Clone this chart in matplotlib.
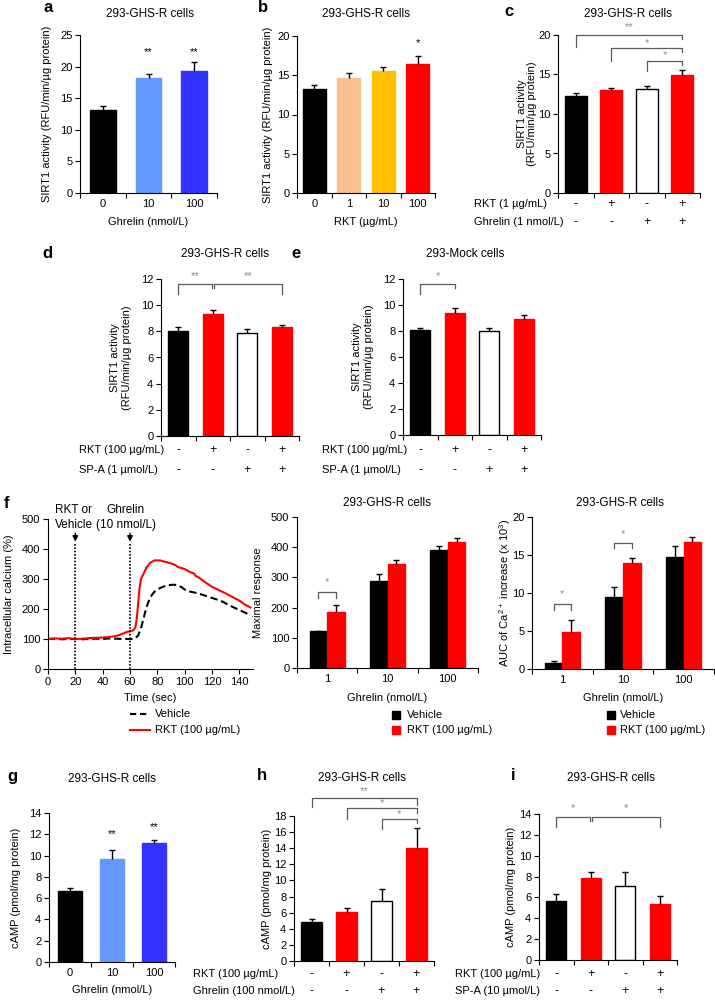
import numpy as np
import matplotlib
matplotlib.use('Agg')
import matplotlib.pyplot as plt
from matplotlib.transforms import blended_transform_factory
from matplotlib.lines import Line2D
from matplotlib.patches import Rectangle

# ---- data ----
# a: SIRT1 activity vs ghrelin
ghrelin_doses = ['0', '10', '100']
sirt_ghrelin = [13.1, 18.2, 19.3]
sirt_ghrelin_err = [0.6, 0.7, 1.5]

# b: SIRT1 activity vs RKT
rkt_doses = ['0', '1', '10', '100']
sirt_rkt = [13.2, 14.6, 15.5, 16.4]
sirt_rkt_err = [0.5, 0.7, 0.6, 1.1]

# c: RKT 1 ug/mL x ghrelin 1 nmol/L
sirt_combo = [12.3, 13.0, 13.2, 14.9]
sirt_combo_err = [0.4, 0.3, 0.3, 0.7]

# d, e: RKT 100 ug/mL x SP-A
sirt_spa_ghsr = [8.0, 9.35, 7.9, 8.3]
sirt_spa_ghsr_err = [0.3, 0.25, 0.25, 0.2]
sirt_spa_mock = [8.1, 9.4, 8.0, 8.9]
sirt_spa_mock_err = [0.15, 0.35, 0.2, 0.3]

# f: calcium time course
t_vehicle = [0, 5, 10, 15, 20, 25, 30, 35, 40, 45, 50, 55, 60, 62, 64, 66, 68, 70, 72, 74,
             76, 78, 80, 83, 86, 89, 92, 95, 98, 100, 104, 108, 112, 116, 120, 124, 128,
             132, 136, 140, 144, 148]
ca_vehicle = [100, 101, 99, 100, 100, 99, 100, 101, 100, 102, 101, 100, 100, 100, 103, 112,
              135, 170, 205, 230, 247, 258, 265, 272, 277, 280, 281, 279, 272, 265, 258,
              254, 249, 243, 237, 231, 224, 214, 205, 197, 188, 180]
t_rkt = [0, 5, 10, 15, 20, 25, 30, 35, 40, 45, 50, 53, 56, 58, 60, 62, 63, 64, 65, 66, 67,
         68, 70, 72, 75, 78, 82, 85, 88, 90, 93, 95, 98, 100, 104, 107, 108, 110, 113, 116,
         120, 125, 130, 135, 140, 144, 148]
ca_rkt = [100, 102, 101, 103, 100, 101, 103, 104, 105, 107, 110, 115, 120, 124, 126, 128,
          132, 140, 170, 220, 270, 300, 318, 338, 355, 362, 362, 358, 355, 352, 347, 340,
          336, 333, 323, 318, 310, 306, 296, 286, 274, 263, 252, 240, 228, 215, 205]

# f: maximal response and AUC, by ghrelin dose
f_doses = ['1', '10', '100']
max_vehicle = [121, 287, 390]
max_vehicle_err = [3, 23, 13]
max_rkt = [187, 343, 417]
max_rkt_err = [20, 14, 13]
auc_vehicle = [0.8, 9.5, 14.8]
auc_vehicle_err = [0.2, 1.3, 1.4]
auc_rkt = [4.9, 14.0, 16.7]
auc_rkt_err = [1.6, 0.6, 0.7]

# g, h, i: cAMP
camp_ghrelin = [6.65, 9.7, 11.15]
camp_ghrelin_err = [0.35, 0.8, 0.35]
camp_combo = [4.8, 6.05, 7.5, 14.0]
camp_combo_err = [0.4, 0.55, 1.4, 2.5]
camp_spa = [5.7, 7.9, 7.05, 5.4]
camp_spa_err = [0.6, 0.5, 1.4, 0.7]

# +/- design rows
sign_rkt = ['-', '+', '-', '+']
sign_second = ['-', '-', '+', '+']

RED = '#ff0000'
GRAY_LINE = '#5a5a5a'
GRAY_STAR = '#8c8c8c'

plt.rcParams['font.family'] = ['Liberation Sans', 'DejaVu Sans']
plt.rcParams['mathtext.fontset'] = 'custom'
plt.rcParams['mathtext.rm'] = 'Liberation Sans'
plt.rcParams['font.size'] = 7.5
plt.rcParams['axes.linewidth'] = 0.8

W, H = 715, 1002
fig = plt.figure(figsize=(W / 100, H / 100), dpi=100)


def fx(px):
    return px / W


def fy(py):
    return 1 - py / H


def px_ax(x0, y0, x1, y1):
    return fig.add_axes([fx(x0), fy(y1), (x1 - x0) / W, (y1 - y0) / H])


def style(ax, n, ymax, ystep):
    ax.spines[['top', 'right']].set_visible(False)
    ax.set_xlim(-0.5, n - 0.5)
    ax.set_ylim(0, ymax)
    ax.set_yticks(np.arange(0, ymax + 0.01, ystep))
    ax.set_xticks(range(n))
    ax.set_xticks(np.arange(-0.5, n, 1), minor=True)
    ax.tick_params(axis='x', which='major', length=0, pad=4, labelsize=8)
    ax.tick_params(axis='x', which='minor', length=3.5, width=0.8, direction='out')
    ax.tick_params(axis='y', length=3.5, width=0.8, direction='out', labelsize=8, pad=2)


def bars(ax, x, vals, errs, colors, width):
    edges = ['black' if c == 'white' else c for c in colors]
    ax.bar(x, vals, width=width, color=colors, edgecolor=edges, linewidth=1.0, zorder=2)
    eb = ax.errorbar(x, vals, yerr=[np.zeros(len(vals)), errs], fmt='none', ecolor='black',
                     elinewidth=1, capsize=2.5, capthick=1, zorder=3)
    for cl in eb[1]:
        if np.allclose(cl.get_ydata(), vals):
            cl.set_visible(False)


def ylabel_at(ax, text, px, **kw):
    ax.set_ylabel(text, va='center', fontsize=8, **kw)
    ax.yaxis.set_label_coords(fx(px), 0.5, transform=blended_transform_factory(fig.transFigure, ax.transAxes))


def xlabel_at(ax, text, py):
    ax.set_xlabel(text, va='center', fontsize=8)
    ax.xaxis.set_label_coords(0.5, fy(py), transform=blended_transform_factory(ax.transAxes, fig.transFigure))


def rows(ax, labels, signs, ys, label_x):
    tr = blended_transform_factory(ax.transData, fig.transFigure)
    for lab, row, py in zip(labels, signs, ys):
        fig.text(fx(label_x), fy(py), lab, ha='left', va='center', fontsize=8)
        for i, s in enumerate(row):
            ax.text(i, fy(py), s, transform=tr, ha='center', va='center', fontsize=9)
    ax.set_xticklabels([])


def bracket(ax, x0, x1, ytop, yl, yr, star, ystar):
    ax.plot([x0, x0, x1, x1], [yl, ytop, ytop, yr], color=GRAY_LINE, lw=0.9, clip_on=False)
    ax.text((x0 + x1) / 2, ystar, star, ha='center', va='center', color=GRAY_STAR,
            fontsize=8, clip_on=False)


def header(letter, lx, ly, title, tx, ty):
    fig.text(fx(lx), fy(ly), letter, ha='center', va='center', fontsize=12, fontweight='bold')
    fig.text(fx(tx), fy(ty), title, ha='center', va='center', fontsize=8.5)


SIRT_LABEL = 'SIRT1 activity (RFU/min/µg protein)'
SIRT_LABEL2 = 'SIRT1 activity\n(RFU/min/µg protein)'
CAMP_LABEL = 'cAMP (pmol/mg protein)'

# ---- a ----
ax = px_ax(80, 35, 217, 193)
style(ax, 3, 25, 5)
bars(ax, range(3), sirt_ghrelin, sirt_ghrelin_err, ['black', '#6699ff', '#3333ff'], 0.56)
ax.set_xticklabels(ghrelin_doses)
for i in (1, 2):
    ax.text(i, 22.3, '**', ha='center', va='center', fontsize=8)
xlabel_at(ax, 'Ghrelin (nmol/L)', 222)
ylabel_at(ax, SIRT_LABEL, 47)
header('a', 48, 8, '293-GHS-R cells', 150, 14)

# ---- b ----
ax = px_ax(297, 36, 435, 193)
style(ax, 4, 20, 5)
bars(ax, range(4), sirt_rkt, sirt_rkt_err, ['black', '#fac090', '#ffc000', RED], 0.66)
ax.set_xticklabels(rkt_doses)
ax.text(3, 19.1, '*', ha='center', va='center', fontsize=8)
xlabel_at(ax, 'RKT (µg/mL)', 222)
ylabel_at(ax, SIRT_LABEL, 268)
header('b', 263, 8, '293-GHS-R cells', 366, 14)

# ---- c ----
ax = px_ax(558, 35, 700, 193)
style(ax, 4, 20, 5)
bars(ax, range(4), sirt_combo, sirt_combo_err, ['black', RED, 'white', RED], 0.62)
rows(ax, ['RKT (1 µg/mL)', 'Ghrelin (1 nmol/L)'], [sign_rkt, sign_second], [204, 222], 474)
bracket(ax, 0, 3, 20.0, 18.5, 19.5, '**', 21.0)
bracket(ax, 1, 3, 18.35, 16.7, 17.85, '*', 19.0)
bracket(ax, 2, 3, 16.7, 15.4, 16.2, '*', 17.5)
ylabel_at(ax, SIRT_LABEL2, 527, linespacing=1.0)
header('c', 509, 11, '293-GHS-R cells', 628, 14)

# ---- d ----
ax = px_ax(161, 279, 299, 436)
style(ax, 4, 12, 2)
bars(ax, range(4), sirt_spa_ghsr, sirt_spa_ghsr_err, ['black', RED, 'white', RED], 0.58)
rows(ax, ['RKT (100 µg/mL)', 'SP-A (1 µmol/L)'], [sign_rkt, sign_second], [450, 470], 79)
bracket(ax, 0, 0.97, 11.62, 10.85, 11.3, '**', 12.2)
bracket(ax, 1.03, 3, 11.62, 11.3, 10.85, '**', 12.2)
ylabel_at(ax, SIRT_LABEL2, 121)
header('d', 47, 253, '293-GHS-R cells', 225, 254)

# ---- e ----
ax = px_ax(403, 279, 541, 435)
style(ax, 4, 12, 2)
bars(ax, range(4), sirt_spa_mock, sirt_spa_mock_err, ['black', RED, 'white', RED], 0.58)
rows(ax, ['RKT (100 µg/mL)', 'SP-A (1 µmol/L)'], [sign_rkt, sign_second], [450, 470], 322)
bracket(ax, 0, 1, 11.62, 10.85, 11.3, '*', 12.2)
ylabel_at(ax, SIRT_LABEL2, 363)
header('e', 296, 253, '293-Mock cells', 465, 254)

# ---- f: time course ----
ax = px_ax(48, 519, 253, 669)
ax.spines[['top', 'right']].set_visible(False)
ax.plot(t_vehicle, ca_vehicle, color='black', lw=1.5, dashes=(3.5, 1.8))
ax.plot(t_rkt, ca_rkt, color=RED, lw=1.5)
for tv in (20, 60):
    ax.plot([tv, tv], [0, 418], color='black', lw=1.2, ls=(0, (1, 1)))
    ax.annotate('', xy=(tv, 415), xytext=(tv, 462),
                arrowprops=dict(arrowstyle='-|>', color='black', lw=1, mutation_scale=8))
ax.text(19, 505, 'RKT or\nVehicle', ha='center', va='center', fontsize=8.5, linespacing=1.25)
ax.text(57, 505, 'Ghrelin\n(10 nmol/L)', ha='center', va='center', fontsize=8.5, linespacing=1.25)
ax.set_xlim(0, 150)
ax.set_ylim(0, 500)
ax.set_xticks(range(0, 141, 20))
ax.set_yticks(range(0, 501, 100))
ax.tick_params(length=3.5, width=0.8, direction='out', labelsize=8, pad=2)
xlabel_at(ax, 'Time (sec)', 698)
ylabel_at(ax, 'Intracellular calcium (%)', 9)
fig.add_artist(Line2D([fx(130), fx(150)], [fy(714)] * 2, color='black', lw=1.5, dashes=(3, 1.8)))
fig.add_artist(Line2D([fx(130), fx(150)], [fy(730)] * 2, color=RED, lw=1.5))
fig.text(fx(155), fy(714), 'Vehicle', ha='left', va='center', fontsize=8)
fig.text(fx(155), fy(730), 'RKT (100 µg/mL)', ha='left', va='center', fontsize=8)
fig.text(fx(6), fy(503), 'f', ha='center', va='center', fontsize=12, fontweight='bold')


def grouped(ax, v1, e1, v2, e2):
    x = np.arange(3)
    bars(ax, x - 0.145, v1, e1, ['black'] * 3, 0.29)
    bars(ax, x + 0.145, v2, e2, [RED] * 3, 0.29)
    ax.set_xticklabels(f_doses)


def bar_legend(sq_x, text_x):
    for py, c, lab in ((715, 'black', 'Vehicle'), (730, RED, 'RKT (100 µg/mL)')):
        fig.add_artist(Rectangle((fx(sq_x - 4), fy(py + 4)), 8 / W, 8 / H, color=c))
        fig.text(fx(text_x), fy(py), lab, ha='left', va='center', fontsize=8)


# ---- f: maximal response ----
ax = px_ax(297, 517, 478, 668)
style(ax, 3, 500, 100)
grouped(ax, max_vehicle, max_vehicle_err, max_rkt, max_rkt_err)
bracket(ax, -0.145, 0.145, 253, 233, 233, '*', 283)
xlabel_at(ax, 'Ghrelin (nmol/L)', 698)
ylabel_at(ax, 'Maximal response', 258)
fig.text(fx(387), fy(503), '293-GHS-R cells', ha='center', va='center', fontsize=8.5)
bar_legend(396, 407)

# ---- f: AUC ----
ax = px_ax(532, 517, 714, 669)
style(ax, 3, 20, 5)
grouped(ax, auc_vehicle, auc_vehicle_err, auc_rkt, auc_rkt_err)
bracket(ax, -0.145, 0.145, 8.55, 7.8, 7.8, '*', 9.9)
bracket(ax, 0.855, 1.145, 16.6, 15.9, 15.9, '*', 17.7)
xlabel_at(ax, 'Ghrelin (nmol/L)', 698)
ylabel_at(ax, 'AUC of Ca$^{2+}$ increase (x 10$^{3}$)', 505)
fig.text(fx(620), fy(503), '293-GHS-R cells', ha='center', va='center', fontsize=8.5)
bar_legend(611, 620)

# ---- g ----
ax = px_ax(49, 813, 175, 962)
style(ax, 3, 14, 2)
bars(ax, range(3), camp_ghrelin, camp_ghrelin_err, ['black', '#6699ff', '#3333ff'], 0.58)
ax.set_xticklabels(ghrelin_doses)
ax.text(1, 12.0, '**', ha='center', va='center', fontsize=8)
ax.text(2, 12.7, '**', ha='center', va='center', fontsize=8)
xlabel_at(ax, 'Ghrelin (nmol/L)', 990)
ylabel_at(ax, CAMP_LABEL, 16)
header('g', 12, 777, '293-GHS-R cells', 112, 779)

# ---- h ----
ax = px_ax(294, 816, 434, 961)
style(ax, 4, 18, 2)
bars(ax, range(4), camp_combo, camp_combo_err, ['black', RED, 'white', RED], 0.58)
rows(ax, ['RKT (100 µg/mL)', 'Ghrelin (100 nmol/L)'], [sign_rkt, sign_second], [974, 991], 193)
bracket(ax, 0, 3, 20.2, 19.1, 19.35, '**', 21.1)
bracket(ax, 1, 3, 19.0, 17.6, 18.4, '*', 19.6)
bracket(ax, 2, 3, 17.6, 16.4, 17.1, '*', 18.3)
ylabel_at(ax, CAMP_LABEL, 267)
header('h', 262, 775, '293-GHS-R cells', 362, 778)

# ---- i ----
ax = px_ax(539, 814, 677, 960)
style(ax, 4, 14, 2)
bars(ax, range(4), camp_spa, camp_spa_err, ['black', RED, 'white', RED], 0.58)
rows(ax, ['RKT (100 µg/mL)', 'SP-A (10 µmol/L)'], [sign_rkt, sign_second], [974, 991], 455)
bracket(ax, 0, 0.97, 13.7, 12.75, 13.3, '*', 14.6)
bracket(ax, 1.03, 3, 13.7, 13.3, 12.75, '*', 14.6)
ylabel_at(ax, CAMP_LABEL, 511)
header('i', 513, 775, '293-GHS-R cells', 611, 778)

fig.savefig('out.png', dpi=100)
